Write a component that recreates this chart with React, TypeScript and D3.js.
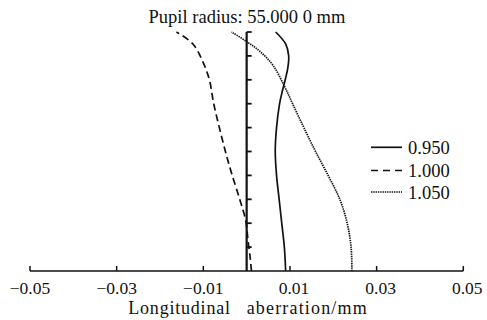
import React from "react";
import * as d3 from "d3";

const pupil950 = [0, 0.1, 0.2, 0.3, 0.4, 0.5, 0.6, 0.7, 0.75, 0.8, 0.85, 0.9, 0.95, 1.0];
const aber950 = [0.009, 0.0087, 0.0081, 0.0075, 0.0069, 0.0066, 0.0069, 0.0076, 0.0082, 0.0089, 0.0095, 0.0097, 0.009, 0.0067];

const pupil1000 = [0, 0.05, 0.13, 0.21, 0.3, 0.41, 0.5, 0.6, 0.7, 0.8, 0.875, 0.95, 1.0];
const aber1000 = [0.0011, 0.00085, 0.0003, -0.0002, -0.0016, -0.0035, -0.0049, -0.0063, -0.0076, -0.0086, -0.0101, -0.0124, -0.0162];

const pupil1050 = [0, 0.1, 0.2, 0.3, 0.4, 0.5, 0.6, 0.7, 0.77, 0.86, 0.92, 0.96, 1.0];
const aber1050 = [0.0243, 0.0241, 0.0232, 0.0215, 0.0188, 0.0159, 0.0132, 0.0106, 0.0088, 0.0061, 0.003, 0.0, -0.0035];

const xTicks = [-0.05, -0.03, -0.01, 0.01, 0.03, 0.05];
const xTickLabels = ["\u22120.05", "\u22120.03", "\u22120.01", "0.01", "0.03", "0.05"];
const yTicks = [0.1, 0.2, 0.3, 0.4, 0.5, 0.6, 0.7, 0.8, 0.9, 1.0];
const seriesNames = ["0.950", "1.000", "1.050"];
const titleText = "Pupil radius: 55.000 0 mm";
const xLabelWords = ["Longitudinal", "aberration/mm"];

const FONT = "'Liberation Serif', 'Times New Roman', serif";

export default function App() {
  const W = 487, H = 320;
  const x = d3.scaleLinear().domain([-0.05, 0.05]).range([30, 463.3]);
  const y = d3.scaleLinear().domain([0, 1]).range([271, 32]);

  const mk = (ps: number[], vs: number[]) =>
    d3
      .line<number>()
      .x((_, i) => x(vs[i]))
      .y((p) => y(p))
      .curve(d3.curveCatmullRom.alpha(0.5))(ps) as string;

  const series = [
    { name: seriesNames[0], d: mk(pupil950, aber950), dash: "none", w: 1.7, color: "#111" },
    { name: seriesNames[1], d: mk(pupil1000, aber1000), dash: "7,4", w: 1.7, color: "#111" },
    { name: seriesNames[2], d: mk(pupil1050, aber1050), dash: "1.4,0.9", w: 1.7, color: "#111" },
  ];

  const legendY = [147.3, 170.5, 192];

  return (
    <svg width={W} height={H} style={{ position: "absolute", left: 0, top: 0, background: "#fff" }}>
      <rect width={W} height={H} fill="#fff" />
      <text x={247} y={22.5} textAnchor="middle" fontFamily={FONT} fontSize={18.5} fill="#111">
        {titleText}
      </text>
      <line x1={x(-0.05)} x2={x(0.05)} y1={y(0)} y2={y(0)} stroke="#111" strokeWidth={1.5} />
      {xTicks.map((t) => (
        <line key={t} x1={x(t)} x2={x(t)} y1={y(0)} y2={y(0) - 5} stroke="#111" strokeWidth={1.5} />
      ))}
      {xTicks.map((t, i) => (
        <text
          key={"l" + t}
          x={x(t) + (t > 0 ? 4 : 0)}
          y={294}
          textAnchor="middle"
          fontFamily={FONT}
          fontSize={17.5}
          fill="#111"
        >
          {xTickLabels[i]}
        </text>
      ))}
      <text x={128.3} y={314} fontFamily={FONT} fontSize={18} fill="#111" textLength={101.7} lengthAdjust="spacing">
        {xLabelWords[0]}
      </text>
      <text x={246.7} y={314} fontFamily={FONT} fontSize={18} fill="#111" textLength={120} lengthAdjust="spacing">
        {xLabelWords[1]}
      </text>
      <line x1={x(0)} x2={x(0)} y1={y(0)} y2={y(1)} stroke="#111" strokeWidth={2.2} />
      {yTicks.map((t) => (
        <line key={t} x1={x(0)} x2={x(0) + 5} y1={y(t)} y2={y(t)} stroke="#111" strokeWidth={1.8} />
      ))}
      {series.map((s) => (
        <path key={s.name} d={s.d} fill="none" stroke={s.color} strokeWidth={s.w} strokeDasharray={s.dash} />
      ))}
      {series.map((s, i) => (
        <g key={"lg" + s.name}>
          <line
            x1={371}
            x2={402}
            y1={legendY[i]}
            y2={legendY[i]}
            stroke={s.color}
            strokeWidth={s.w}
            strokeDasharray={s.dash === "7,4" ? "7,5" : s.dash}
          />
          <text x={408} y={legendY[i] + 6.5} fontFamily={FONT} fontSize={18.5} fill="#111">
            {s.name}
          </text>
        </g>
      ))}
    </svg>
  );
}
